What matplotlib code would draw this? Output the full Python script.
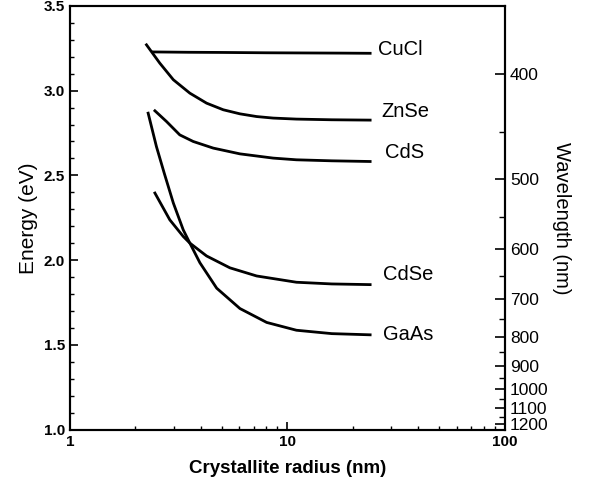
import numpy as np
import matplotlib.pyplot as plt
from matplotlib.ticker import FixedLocator, NullFormatter

plt.rcParams['font.family'] = ['Liberation Sans', 'DejaVu Sans']

# crystallite radius (nm) and band gap energy (eV)
cucl_r = [2.42, 3.5, 5.0, 8.0, 12.0, 18.0, 24.0]
cucl_e = [3.228, 3.226, 3.225, 3.223, 3.222, 3.221, 3.22]

znse_r = [2.25, 2.59, 2.99, 3.56, 4.25, 5.07, 6.05, 7.22, 8.6, 11.0, 16.0, 24.0]
znse_e = [3.27, 3.162, 3.064, 2.985, 2.926, 2.887, 2.863, 2.847, 2.838, 2.832, 2.828, 2.826]

cds_r = [2.46, 2.78, 3.2, 3.69, 4.56, 6.05, 8.6, 11.0, 16.0, 24.0]
cds_e = [2.881, 2.818, 2.739, 2.70, 2.661, 2.627, 2.602, 2.592, 2.586, 2.582]

cdse_r = [2.46, 2.88, 3.32, 3.56, 4.25, 5.44, 7.22, 11.0, 16.0, 24.0]
cdse_e = [2.396, 2.238, 2.14, 2.101, 2.025, 1.955, 1.907, 1.87, 1.86, 1.856]

gaas_r = [2.29, 2.5, 2.72, 2.99, 3.32, 3.56, 3.96, 4.73, 6.05, 8.03, 11.0, 16.0, 24.0]
gaas_e = [2.867, 2.67, 2.51, 2.337, 2.179, 2.101, 1.985, 1.835, 1.715, 1.633, 1.587, 1.567, 1.56]

labels = ['CuCl', 'ZnSe', 'CdS', 'CdSe', 'GaAs']
label_r = [26.0, 27.0, 28.0, 27.5, 27.5]
label_e = [3.24, 2.875, 2.633, 1.914, 1.56]

wl_major = [400, 500, 600, 700, 800, 900, 1000, 1100, 1200]
wl_minor = [450, 550, 650, 750, 850, 950, 1050, 1150]

fig = plt.figure(figsize=(5.92, 4.84), dpi=100)
ax = fig.add_axes([0.118, 0.112, 0.735, 0.876])

for r, e in [(cucl_r, cucl_e), (znse_r, znse_e), (cds_r, cds_e),
             (cdse_r, cdse_e), (gaas_r, gaas_e)]:
    ax.plot(r, e, color='black', lw=2.0, solid_joinstyle='round')

for t, r, e in zip(labels, label_r, label_e):
    ax.text(r, e, t, fontsize=14.5, va='center', ha='left')

ax.set_xscale('log')
ax.set_xlim(1, 100)
ax.set_ylim(1.0, 3.5)
ax.set_yticks([1.0, 1.5, 2.0, 2.5, 3.0, 3.5])
ax.yaxis.set_minor_locator(FixedLocator(np.arange(1.0, 3.51, 0.1)))
ax.set_xticks([1, 10, 100])
ax.set_xticklabels(['1', '10', '100'])
ax.xaxis.set_minor_formatter(NullFormatter())
for lab in ax.get_yticklabels() + ax.get_xticklabels():
    lab.set_fontweight('bold')
ax.tick_params(which='both', direction='in', top=False, right=False, labelsize=11)
ax.tick_params(which='major', length=6, width=1.2)
ax.tick_params(which='minor', length=3, width=1)
ax.set_xlabel('Crystallite radius (nm)', fontsize=13.5, fontweight='bold', labelpad=8)
ax.set_ylabel('Energy (eV)', fontsize=15)

# right axis: wavelength = 1240 / E
ax2 = ax.twinx()
ax2.set_ylim(ax.get_ylim())
ax2.set_yticks([1240.0 / w for w in wl_major])
ax2.set_yticklabels([str(w) for w in wl_major])
ax2.yaxis.set_minor_locator(FixedLocator([1240.0 / w for w in wl_minor]))
ax2.tick_params(which='both', direction='in', labelsize=12.5)
ax2.tick_params(which='major', length=7, width=1.2)
ax2.tick_params(which='minor', length=4, width=1)
ax2.set_ylabel('Wavelength (nm)', fontsize=14.5, rotation=-90, labelpad=16)

for a in (ax, ax2):
    for s in a.spines.values():
        s.set_linewidth(1.5)

fig.savefig('out.png', dpi=100)
